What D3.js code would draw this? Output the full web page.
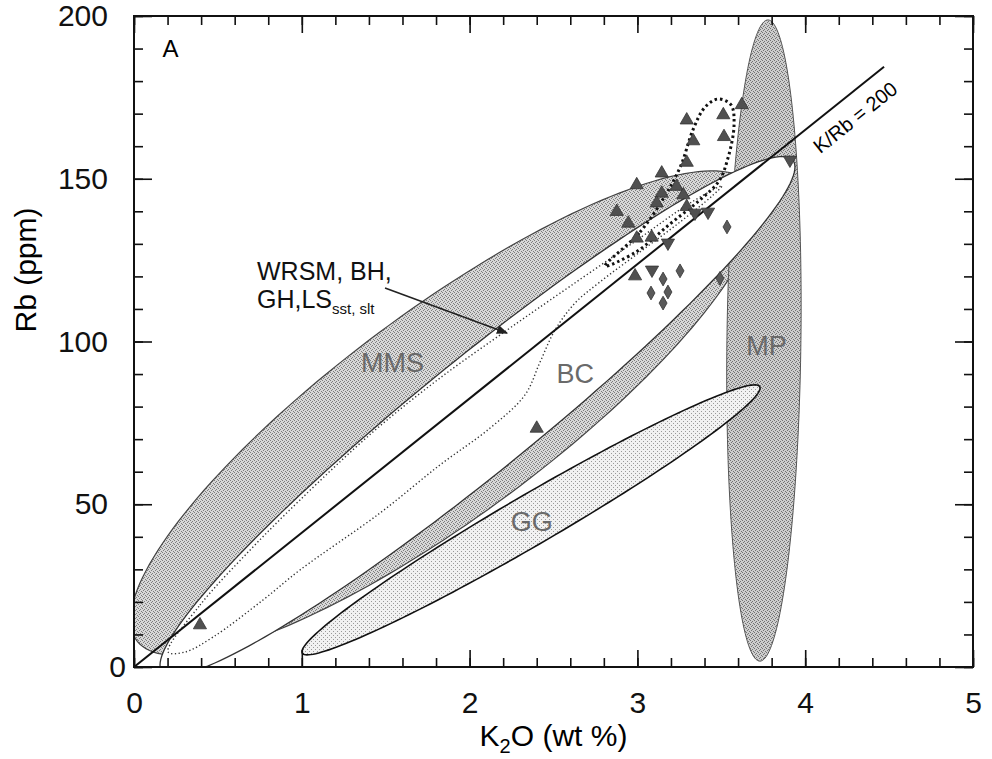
<!DOCTYPE html>
<html>
<head>
<meta charset="utf-8">
<script src="https://cdnjs.cloudflare.com/ajax/libs/d3/7.8.5/d3.min.js"></script>
<style>
body { margin: 0; background: #fff; }
text { font-family: "Liberation Sans", Arial, sans-serif; }
</style>
</head>
<body>
<div id="chart"></div>
<script>
// ---- data (K2O wt %, Rb ppm) ----
var xTicks = [0, 1, 2, 3, 4, 5];
var yTicks = [0, 50, 100, 150, 200];

// compositional fields, drawn as ellipses:
// centre, end of the long diameter, conjugate half-diameter
var fieldNames = ["MMS", "MP", "BC", "GG"];
var fieldCentres = [[1.85, 78.0], [3.754, 100.3], [2.047, 77.1], [2.366, 45.2]];
var fieldEnds = [[3.72, 141.5], [3.778, 198.8], [3.939, 153.6], [3.731, 85.7]];
var fieldConj = [[0, 38.8], [0.2205, 0], [0, 22.4], [0, 8.9]];
var fieldLabelAt = [[1.54, 90.6], [3.77, 95.9], [2.63, 87.2], [2.37, 41.8]];

// WRSM, BH, GH, LS field (fine dots)
var wrsmOutline = [[0.203, 4.6], [0.393, 19.0], [0.691, 35.9], [0.989, 51.3], [1.424, 72.2],
  [1.824, 88.8], [2.223, 103.5], [2.479, 112.7], [2.974, 130.3], [3.313, 142.5], [3.504, 147.8],
  [3.445, 144.7], [3.254, 136.7], [3.015, 127.5], [2.777, 118.3], [2.628, 111.8], [2.509, 103.5],
  [2.420, 93.7], [2.330, 83.6], [2.122, 73.4], [1.824, 62.1], [1.466, 47.3], [0.989, 29.8],
  [0.769, 20.6], [0.471, 9.2], [0.304, 4.6]];
// high-Rb group (coarse dots)
var loopOutline = [[2.807, 123.2], [3.015, 133.6], [3.164, 144.7], [3.260, 154.2], [3.331, 165.0],
  [3.403, 172.0], [3.480, 174.5], [3.558, 172.7], [3.576, 166.5], [3.540, 156.4], [3.486, 149.3],
  [3.373, 143.5], [3.194, 136.1], [2.992, 127.5]];

// K/Rb = 200 reference line
var kRbLine = [[0, 0], [4.47, 184.4]];

// samples
var triUp = [[2.996, 148.1], [3.145, 151.7], [3.294, 155.0], [2.877, 139.9], [2.946, 136.3],
  [3.234, 147.6], [3.145, 145.5], [3.115, 142.5], [3.274, 145.0], [3.294, 141.4],
  [2.996, 131.7], [3.085, 132.0], [2.986, 120.1], [2.400, 73.3], [3.294, 168.0],
  [3.333, 161.6], [3.512, 169.6], [3.516, 162.9], [3.622, 172.7], [0.393, 12.9]];
var triDown = [[3.421, 139.8], [3.343, 139.5], [3.182, 130.3], [3.087, 122.0], [3.909, 155.8]];
var diamonds = [[3.534, 135.2], [3.254, 121.7], [3.153, 119.2], [3.182, 115.2], [3.081, 114.9],
  [3.153, 111.8], [3.492, 119.4]];

// ---- chart ----
var svgWidth = 992;
var svgHeight = 759;
var margin = { top: 16, right: 19, bottom: 92, left: 134 };
var width = svgWidth - margin.left - margin.right;
var height = svgHeight - margin.top - margin.bottom;

var svg = d3.select("#chart").append("svg")
  .attr("width", svgWidth)
  .attr("height", svgHeight);

var chart = svg.append("g")
  .attr("transform", `translate(${margin.left}, ${margin.top})`);

var x = d3.scaleLinear().domain([0, 5]).range([0, width]);
var y = d3.scaleLinear().domain([0, 200]).range([height, 0]);

var defs = svg.append("defs");
defs.append("clipPath").attr("id", "plotClip")
  .append("rect").attr("width", width).attr("height", height);

defs.append("marker")
  .attr("id", "arrow").attr("viewBox", "0 0 10 10")
  .attr("refX", 9).attr("refY", 5)
  .attr("markerWidth", 7).attr("markerHeight", 7)
  .attr("orient", "auto")
  .append("path").attr("d", "M0,1 L10,5 L0,9 Z").attr("fill", "#222");

// stipple textures like the printed figure
function stipple(id, bg, dots, colour) {
  var p = defs.append("pattern").attr("id", id)
    .attr("width", 4).attr("height", 4).attr("patternUnits", "userSpaceOnUse");
  p.append("rect").attr("width", 4).attr("height", 4).attr("fill", bg);
  dots.forEach(function(d) {
    p.append("rect").attr("x", d[0]).attr("y", d[1]).attr("width", 1).attr("height", 1).attr("fill", colour);
  });
}
stipple("dotMMS", "#d8d8d8", [[0, 0], [2, 1], [1, 2], [3, 3]], "#7d7d7d");
stipple("dotMP", "#cdcdcd", [[0, 0], [2, 1], [1, 2], [3, 3]], "#727272");
stipple("dotGG", "#f2f2f2", [[1, 1], [3, 3]], "#9a9a9a");

var plot = chart.append("g").attr("clip-path", "url(#plotClip)");

function fieldPath(i) {
  var c = fieldCentres[i], e = fieldEnds[i], k = fieldConj[i];
  var cx = x(c[0]), cy = y(c[1]);
  var ux = x(e[0]) - cx, uy = y(e[1]) - cy;
  var vx = x(c[0] + k[0]) - cx, vy = y(c[1] + k[1]) - cy;
  var pts = d3.range(0, 360, 2).map(function(a) {
    var t = a * Math.PI / 180;
    return [cx + ux * Math.cos(t) + vx * Math.sin(t), cy + uy * Math.cos(t) + vy * Math.sin(t)];
  });
  return d3.line()(pts) + "Z";
}

var fieldFill = ["url(#dotMMS)", "url(#dotMP)", "#ffffff", "url(#dotGG)"];
var fieldStroke = ["#444", "#555", "#333", "#111"];
var fieldWidth = [1.2, 1, 1.3, 1.6];

plot.selectAll("path.field")
  .data(fieldNames)
  .enter()
  .append("path")
  .attr("class", "field")
  .attr("d", function(d, i) { return fieldPath(i); })
  .attr("fill", function(d, i) { return fieldFill[i]; })
  .attr("stroke", function(d, i) { return fieldStroke[i]; })
  .attr("stroke-width", function(d, i) { return fieldWidth[i]; });

var outline = d3.line()
  .x(function(d) { return x(d[0]); })
  .y(function(d) { return y(d[1]); })
  .curve(d3.curveCatmullRomClosed);

plot.append("path")
  .attr("d", outline(wrsmOutline))
  .attr("fill", "none")
  .attr("stroke", "#333")
  .attr("stroke-width", 1.4)
  .attr("stroke-dasharray", "1.3,2.4");

plot.append("path")
  .attr("d", outline(loopOutline))
  .attr("fill", "none")
  .attr("stroke", "#111")
  .attr("stroke-width", 3)
  .attr("stroke-dasharray", "2.5,3");

plot.append("line")
  .attr("x1", x(kRbLine[0][0])).attr("y1", y(kRbLine[0][1]))
  .attr("x2", x(kRbLine[1][0])).attr("y2", y(kRbLine[1][1]))
  .attr("stroke", "#111")
  .attr("stroke-width", 2);

// field labels
chart.selectAll("text.fieldLabel")
  .data(fieldNames)
  .enter()
  .append("text")
  .attr("class", "fieldLabel")
  .attr("x", function(d, i) { return x(fieldLabelAt[i][0]); })
  .attr("y", function(d, i) { return y(fieldLabelAt[i][1]); })
  .attr("text-anchor", "middle")
  .attr("font-size", 27)
  .attr("fill", "#6a6a6a")
  .text(function(d) { return d; });

// sample symbols
function drawSymbols(list, type, size, rot, fill) {
  chart.selectAll(null)
    .data(list)
    .enter()
    .append("path")
    .attr("d", d3.symbol().type(type).size(size))
    .attr("transform", function(d) { return `translate(${x(d[0])}, ${y(d[1])}) rotate(${rot})`; })
    .attr("fill", fill)
    .attr("stroke", "#333")
    .attr("stroke-width", 0.8);
}
drawSymbols(triUp, d3.symbolTriangle, 75, 0, "#505050");
drawSymbols(triDown, d3.symbolTriangle, 75, 180, "#505050");
drawSymbols(diamonds, d3.symbolDiamond, 55, 0, "#5a5a5a");

// annotations
chart.append("text")
  .attr("x", x(0.17)).attr("y", y(187.5))
  .attr("font-size", 24)
  .text("A");

var kAngle = Math.atan2(y(kRbLine[1][1]) - y(0), x(kRbLine[1][0]) - x(0)) * 180 / Math.PI;
chart.append("text")
  .attr("transform", `translate(${x(4.09)}, ${y(157.5)}) rotate(${kAngle})`)
  .attr("font-size", 20)
  .text("K/Rb = 200");

var lab = chart.append("g").attr("font-size", 25).attr("fill", "#111");
lab.append("text").attr("x", x(0.733)).attr("y", y(118.9)).text("WRSM, BH,");
var lab2 = lab.append("text").attr("x", x(0.733)).attr("y", y(110.3));
lab2.append("tspan").text("GH,LS");
lab2.append("tspan").attr("font-size", 15).attr("dy", 6).text("sst, slt");

chart.append("line")
  .attr("x1", x(1.496)).attr("y1", y(116.4))
  .attr("x2", x(2.223)).attr("y2", y(102.6))
  .attr("stroke", "#222")
  .attr("stroke-width", 1.6)
  .attr("marker-end", "url(#arrow)");

// axes (ticks point inward on all four sides)
var minorX = d3.range(0, 5.01, 0.2);
var minorY = d3.range(0, 201, 10);

function styleAxis(g) {
  g.select(".domain").remove();
  g.selectAll("line").attr("stroke", "#111").attr("stroke-width", 1.6);
}

chart.append("g").attr("transform", `translate(0, ${height})`)
  .call(d3.axisBottom(x).tickValues(minorX).tickSize(-9).tickFormat("")).call(styleAxis);
chart.append("g")
  .call(d3.axisTop(x).tickValues(minorX).tickSize(-9).tickFormat("")).call(styleAxis);
chart.append("g")
  .call(d3.axisLeft(y).tickValues(minorY).tickSize(-9).tickFormat("")).call(styleAxis);
chart.append("g").attr("transform", `translate(${width}, 0)`)
  .call(d3.axisRight(y).tickValues(minorY).tickSize(-9).tickFormat("")).call(styleAxis);

var xAxis = chart.append("g").attr("transform", `translate(0, ${height})`)
  .call(d3.axisBottom(x).tickValues(xTicks).tickSize(-17).tickPadding(25).tickFormat(d3.format("d")))
  .call(styleAxis);
chart.append("g")
  .call(d3.axisTop(x).tickValues(xTicks).tickSize(-17).tickFormat("")).call(styleAxis);
var yAxis = chart.append("g")
  .call(d3.axisLeft(y).tickValues(yTicks).tickSize(-18).tickPadding(26))
  .call(styleAxis);
chart.append("g").attr("transform", `translate(${width}, 0)`)
  .call(d3.axisRight(y).tickValues(yTicks).tickSize(-18).tickFormat("")).call(styleAxis);

xAxis.selectAll("text").attr("font-size", 30).attr("font-family", "Liberation Sans, Arial, sans-serif").attr("fill", "#111");
yAxis.selectAll("text").attr("font-size", 30).attr("font-family", "Liberation Sans, Arial, sans-serif").attr("fill", "#111");
yAxis.selectAll(".tick").filter(function(d) { return d === 0; }).select("text").attr("x", -8);

chart.append("rect")
  .attr("width", width).attr("height", height)
  .attr("fill", "none").attr("stroke", "#111").attr("stroke-width", 2);

// axis titles
var xTitle = chart.append("text")
  .attr("x", width / 2).attr("y", height + 79)
  .attr("text-anchor", "middle")
  .attr("font-size", 30);
xTitle.append("tspan").text("K");
xTitle.append("tspan").attr("font-size", 20).attr("dy", 7).text("2");
xTitle.append("tspan").attr("dy", -7).text("O (wt %)");

chart.append("text")
  .attr("transform", "rotate(-90)")
  .attr("x", -(270 - margin.top))
  .attr("y", 36 - margin.left)
  .attr("text-anchor", "middle")
  .attr("font-size", 30)
  .text("Rb (ppm)");
</script>
</body>
</html>
